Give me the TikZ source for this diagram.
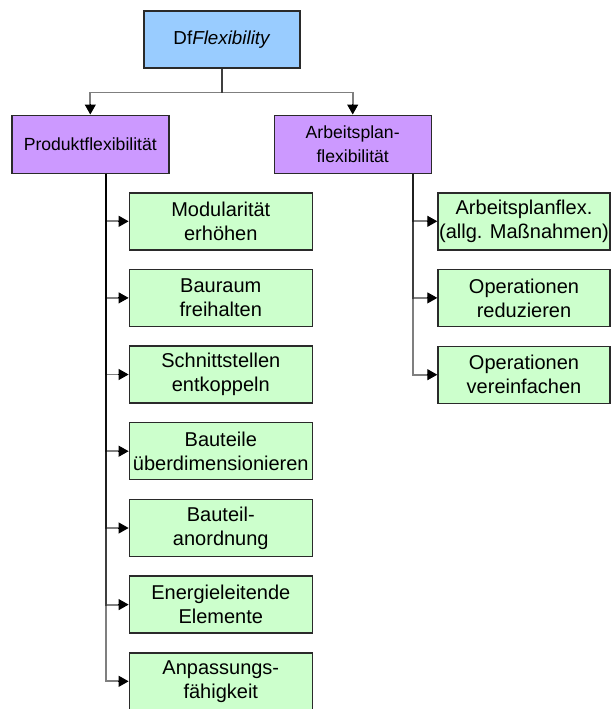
\documentclass[tikz,border=0pt]{standalone}
\usepackage{fontspec}
\setmainfont{Liberation Sans}
\usetikzlibrary{arrows.meta}
\definecolor{rootblue}{HTML}{99CCFF}
\definecolor{catpurple}{HTML}{CC99FF}
\definecolor{leafgreen}{HTML}{CCFFCC}
\definecolor{edgeline}{HTML}{2A2A2A}
\tikzset{
  box/.style={draw=edgeline, line width=1.4pt, align=center, inner sep=0pt},
  rootbox/.style={box, fill=rootblue, minimum width=156pt, minimum height=57pt,
    font=\fontsize{18.8}{23}\selectfont},
  catbox/.style={box, fill=catpurple, minimum width=157pt, minimum height=58pt,
    font=\fontsize{17.6}{23.3}\selectfont},
  leafbox/.style={box, fill=leafgreen, minimum height=57pt,
    font=\fontsize{20}{24}\selectfont},
  wire/.style={draw=black, draw opacity=0.5, line width=1.8pt},
  tip/.style={-{Triangle[length=10pt,width=11pt]}, line width=1pt, draw=black, fill=black}
}
\begin{document}
\begin{tikzpicture}[x=1pt, y=-1pt]
  \useasboundingbox (0,0) rectangle (612,709);
  \fill[white] (0,0) rectangle (612,709);

  % top level and the two categories
  \node[rootbox] (root) at (222,39.5) {Df\textit{Flexibility}};
  \node[catbox] (prod) at (90.3,144.2) {Produktflexibilität};
  \node[catbox] (arb) at (352.7,144.2) {Arbeitsplan-\\flexibilität};

  % measures under Produktflexibilität
  \node[leafbox, minimum width=183pt] (p1) at (220.8,221.3) {Modularität\\erhöhen};
  \node[leafbox, minimum width=183pt] (p2) at (220.8,297.9) {Bauraum\\freihalten};
  \node[leafbox, minimum width=183pt] (p3) at (220.8,374.5) {Schnittstellen\\entkoppeln};
  \node[leafbox, minimum width=183pt] (p4) at (220.8,451.2) {Bauteile\\überdimensionieren};
  \node[leafbox, minimum width=183pt] (p5) at (220.8,528.0) {Bauteil-\\anordnung};
  \node[leafbox, minimum width=183pt] (p6) at (220.8,604.6) {Energieleitende\\Elemente};
  \node[leafbox, minimum width=183pt] (p7) at (220.8,681.3) {Anpassungs-\\fähigkeit};

  % measures under Arbeitsplanflexibilität
  \node[leafbox, minimum width=172pt] (a1) at (524,221.3) {Arbeitsplanflex.\\(allg. Maßnahmen)};
  \node[leafbox, minimum width=172pt] (a2) at (524,297.9) {Operationen\\reduzieren};
  \node[leafbox, minimum width=172pt] (a3) at (524,374.7) {Operationen\\vereinfachen};

  % connectors from the root (yshift is in page direction: positive is up)
  \foreach \c in {prod,arb}{
    \path[wire] (root.south) -- ++(0,23.7) -| ([yshift=9pt]\c.north);
    \draw[tip] ([yshift=10.5pt]\c.north) -- (\c.north);
  }
  % connectors along the left trunk
  \foreach \c in {p1,p2,p3,p4,p5,p6,p7}{
    \path[wire] ([xshift=15.4pt]prod.south) |- ([xshift=-9pt]\c.west);
    \draw[tip] ([xshift=-10.5pt]\c.west) -- (\c.west);
  }
  % connectors along the right trunk
  \foreach \c in {a1,a2,a3}{
    \path[wire] ([xshift=60.6pt]arb.south) |- ([xshift=-9pt]\c.west);
    \draw[tip] ([xshift=-10.5pt]\c.west) -- (\c.west);
  }
\end{tikzpicture}
\end{document}
